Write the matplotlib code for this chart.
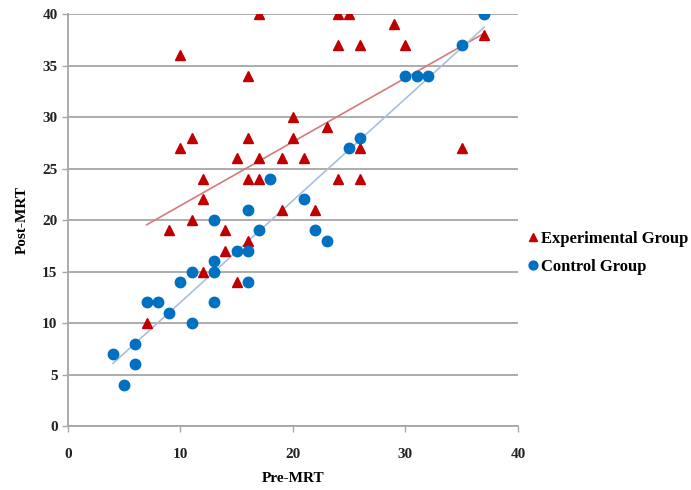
import numpy as np
import matplotlib
matplotlib.use('Agg')
import matplotlib.pyplot as plt

# Experimental group (triangles)
exp_pre = [7, 9, 10, 10, 11, 11, 12, 12, 12, 14, 14, 15, 15, 16, 16, 16, 16, 17, 17, 17,
           19, 19, 20, 20, 21, 22, 23, 24, 24, 24, 25, 26, 26, 26, 29, 30, 35, 37]
exp_post = [10, 19, 36, 27, 28, 20, 24, 22, 15, 19, 17, 26, 14, 34, 28, 24, 18, 40, 26, 24,
            26, 21, 30, 28, 26, 21, 29, 40, 37, 24, 40, 37, 27, 24, 39, 37, 27, 38]

# Control group (circles)
ctl_pre = [4, 5, 6, 6, 7, 8, 9, 10, 11, 11, 13, 13, 13, 13, 15, 16, 16, 16, 17, 18,
           21, 22, 23, 25, 26, 30, 31, 32, 35, 37]
ctl_post = [7, 4, 8, 6, 12, 12, 11, 14, 15, 10, 12, 20, 16, 15, 17, 21, 17, 14, 19, 24,
            22, 19, 18, 27, 28, 34, 34, 34, 37, 40]

x_ticks = [0, 10, 20, 30, 40]
y_ticks = [0, 5, 10, 15, 20, 25, 30, 35, 40]

red = '#C00000'
blue = '#0070C0'
serif = ['Liberation Serif', 'DejaVu Serif']

fig = plt.figure(figsize=(6.91, 4.90), dpi=100)
ax = fig.add_axes([0.0984, 0.1306, 0.6512, 0.8408])

# linear trend lines, like Excel
for xs, ys, c in [(exp_pre, exp_post, '#D67A7C'), (ctl_pre, ctl_post, '#A9C0DA')]:
    k, b = np.polyfit(xs, ys, 1)
    xx = np.array([min(xs), max(xs)])
    ax.plot(xx, k * xx + b, color=c, linewidth=1.2, zorder=2)

ax.plot(exp_pre, exp_post, linestyle='none', marker='^', markersize=7.5,
        color=red, label='Experimental Group', zorder=3)
ax.plot(ctl_pre, ctl_post, linestyle='none', marker='o', markersize=7.5,
        color=blue, label='Control Group', zorder=3)

ax.set_xlim(0, 40)
ax.set_ylim(0, 40)
ax.set_xticks(x_ticks)
ax.set_yticks(y_ticks)
ax.yaxis.grid(True, color='#A6A6A6', linewidth=1.3)
ax.set_axisbelow(True)
for s in ['top', 'right']:
    ax.spines[s].set_visible(False)
for s in ['left', 'bottom']:
    ax.spines[s].set_color('#A6A6A6')
    ax.spines[s].set_linewidth(1.3)
ax.tick_params(colors='#A6A6A6', length=4, width=1, labelcolor='#222222')
ax.tick_params(axis='x', pad=12)
for lab in ax.get_xticklabels() + ax.get_yticklabels():
    lab.set_family(serif)
    lab.set_fontweight('bold')
    lab.set_fontsize(11)

ax.set_xlabel('Pre-MRT', family=serif, fontweight='bold', fontsize=11, labelpad=8)
ax.set_ylabel('Post-MRT', family=serif, fontweight='bold', fontsize=11, labelpad=10)

fig.legend(loc='center left', bbox_to_anchor=(0.756, 0.484), frameon=False,
           prop={'family': serif, 'weight': 'bold', 'size': 12}, markerscale=0.85,
           handlelength=0.5, handletextpad=0.2, labelspacing=0.75, borderaxespad=0)

fig.savefig('out.png', dpi=100)
